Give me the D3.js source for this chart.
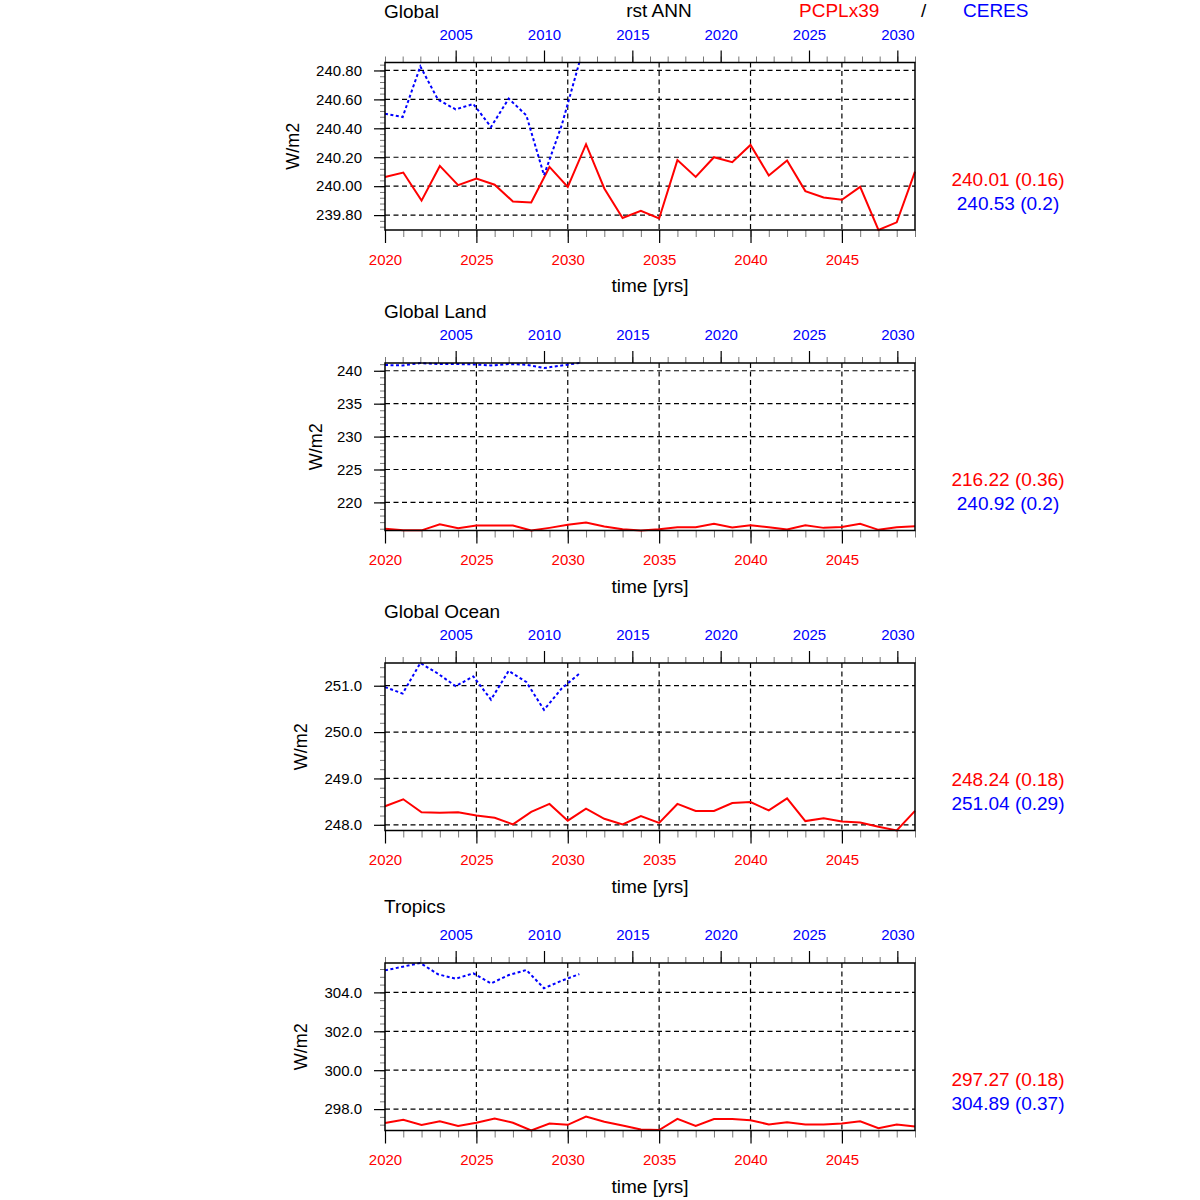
<!DOCTYPE html>
<html>
<head>
<meta charset="utf-8">
<script src="https://cdn.jsdelivr.net/npm/d3@7"></script>
<style>
  body { margin: 0; background: #fff; }
  text { font-family: "Liberation Sans", Arial, Helvetica, sans-serif; }
</style>
</head>
<body>
<div id="chart"></div>
<script>
// anos do modelo (eixo de baixo) e das observações (eixo de cima)
const modelYears = [2020, 2021, 2022, 2023, 2024, 2025, 2026, 2027, 2028, 2029,
  2030, 2031, 2032, 2033, 2034, 2035, 2036, 2037, 2038, 2039,
  2040, 2041, 2042, 2043, 2044, 2045, 2046, 2047, 2048, 2049];
const obsYears = [2001, 2002, 2003, 2004, 2005, 2006, 2007, 2008, 2009, 2010, 2011, 2012];

const regions = ["Global", "Global Land", "Global Ocean", "Tropics"];

// PCPLx39 (vermelho)
const modelGlobal = [240.064, 240.094, 239.900, 240.140, 240.007, 240.053, 240.010, 239.894, 239.887, 240.133,
  239.995, 240.290, 239.984, 239.780, 239.830, 239.777, 240.180, 240.064, 240.200, 240.166,
  240.285, 240.074, 240.177, 239.966, 239.922, 239.906, 239.995, 239.697, 239.750, 240.100];
const modelLand = [215.98, 215.75, 215.75, 216.69, 216.08, 216.49, 216.49, 216.49, 215.73, 216.13,
  216.59, 216.95, 216.34, 215.93, 215.73, 215.93, 216.23, 216.23, 216.74, 216.18,
  216.54, 216.23, 215.88, 216.54, 216.13, 216.28, 216.74, 215.83, 216.23, 216.39];
const modelOcean = [248.40, 248.55, 248.27, 248.26, 248.27, 248.20, 248.15, 248.01, 248.28, 248.45,
  248.09, 248.35, 248.13, 248.01, 248.19, 248.04, 248.45, 248.30, 248.30, 248.47,
  248.49, 248.31, 248.57, 248.08, 248.14, 248.07, 248.05, 247.96, 247.877, 248.30];
const modelTropics = [297.28, 297.45, 297.18, 297.38, 297.13, 297.30, 297.52, 297.30, 296.90, 297.26,
  297.19, 297.62, 297.35, 297.16, 296.95, 296.92, 297.50, 297.14, 297.49, 297.49,
  297.43, 297.21, 297.33, 297.21, 297.21, 297.26, 297.37, 297.02, 297.21, 297.11];

// CERES (azul)
const obsGlobal = [240.501, 240.478, 240.828, 240.598, 240.531, 240.568, 240.409, 240.605, 240.490, 240.076, 240.420, 240.855];
const obsLand = [240.87, 240.81, 241.17, 241.02, 241.02, 240.97, 240.81, 241.02, 240.92, 240.41, 240.81, 241.18];
const obsOcean = [250.97, 250.83, 251.49, 251.26, 250.99, 251.20, 250.70, 251.32, 251.08, 250.48, 250.94, 251.26];
const obsTropics = [305.13, 305.32, 305.51, 304.93, 304.70, 304.98, 304.46, 304.89, 305.15, 304.21, 304.60, 304.94];

// rótulos dos eixos
const bottomTicks = [2020, 2025, 2030, 2035, 2040, 2045];
const topTicks = [2005, 2010, 2015, 2020, 2025, 2030];
const yTicksGlobal = [239.8, 240.0, 240.2, 240.4, 240.6, 240.8];
const yTicksLand = [220, 225, 230, 235, 240];
const yTicksOcean = [248.0, 249.0, 250.0, 251.0];
const yTicksTropics = [298.0, 300.0, 302.0, 304.0];

// médias (desvio) mostradas à direita
const modelStats = ["240.01 (0.16)", "216.22 (0.36)", "248.24 (0.18)", "297.27 (0.18)"];
const obsStats = ["240.53 (0.2)", "240.92 (0.2)", "251.04 (0.29)", "304.89 (0.37)"];

const panels = [
  { title: regions[0], model: modelGlobal, obs: obsGlobal, yTicks: yTicksGlobal, minor: 0.04, fmt: ".2f", top: 62.5, ylabX: 293, titleOff: 45 },
  { title: regions[1], model: modelLand, obs: obsLand, yTicks: yTicksLand, minor: 1, fmt: "d", top: 363, ylabX: 316, titleOff: 45 },
  { title: regions[2], model: modelOcean, obs: obsOcean, yTicks: yTicksOcean, minor: 0.2, fmt: ".1f", top: 663, ylabX: 301, titleOff: 45 },
  { title: regions[3], model: modelTropics, obs: obsTropics, yTicks: yTicksTropics, minor: 0.4, fmt: ".1f", top: 963, ylabX: 301, titleOff: 50 },
];

const left = 385, plotW = 530, plotH = 167.5;
const red = "#ff0000", blue = "#0000ff";

const svg = d3.select("#chart").append("svg")
  .attr("width", 1200).attr("height", 1200);

// cabeçalho
svg.append("text").attr("x", 659).attr("y", 17).attr("text-anchor", "middle")
  .style("font-size", "19px").text("rst ANN");
svg.append("text").attr("x", 799).attr("y", 17).style("font-size", "19px")
  .style("fill", red).text("PCPLx39");
svg.append("text").attr("x", 921).attr("y", 17).style("font-size", "19px").text("/");
svg.append("text").attr("x", 963).attr("y", 17).style("font-size", "19px")
  .style("fill", blue).text("CERES");

const xModel = d3.scaleLinear().domain([2020, 2049]).range([0, plotW]);
const xObs = d3.scaleLinear().domain([2001, 2031]).range([0, plotW]);

panels.forEach((p, i) => {
  const g = svg.append("g").attr("transform", `translate(${left},${p.top})`);

  const ext = d3.extent(p.model.concat(p.obs));
  const y = d3.scaleLinear().domain(ext).range([plotH, 0]);

  // título do painel
  svg.append("text").attr("x", 384).attr("y", p.top - p.titleOff)
    .style("font-size", "19px").text(p.title);

  // grade tracejada
  g.append("g").selectAll("line").data(p.yTicks).join("line")
    .attr("x1", 0).attr("x2", plotW)
    .attr("y1", d => y(d)).attr("y2", d => y(d))
    .attr("stroke", "#000").attr("stroke-width", 1.2).attr("stroke-dasharray", "5,3.5");
  g.append("g").selectAll("line").data(bottomTicks.slice(1)).join("line")
    .attr("x1", d => xModel(d)).attr("x2", d => xModel(d))
    .attr("y1", 0).attr("y2", plotH)
    .attr("stroke", "#000").attr("stroke-width", 1.2).attr("stroke-dasharray", "5,3.5");

  // ticks menores
  const yMinor = d3.range(Math.ceil(ext[0] / p.minor - 1e-6) * p.minor, ext[1] + 1e-9, p.minor);
  g.append("g").call(d3.axisLeft(y).tickValues(yMinor).tickSize(5).tickFormat(""))
    .call(a => a.select(".domain").remove())
    .call(a => a.selectAll("line").attr("stroke", "#777"));
  g.append("g").attr("transform", `translate(0,${plotH})`)
    .call(d3.axisBottom(xModel).tickValues(modelYears).tickSize(7).tickFormat(""))
    .call(a => a.select(".domain").remove())
    .call(a => a.selectAll("line").attr("stroke", "#777"));
  g.append("g")
    .call(d3.axisTop(xObs).tickValues(d3.range(2001, 2032)).tickSize(6).tickFormat(""))
    .call(a => a.select(".domain").remove())
    .call(a => a.selectAll("line").attr("stroke", "#777"));

  // eixos principais
  g.append("g")
    .call(d3.axisLeft(y).tickValues(p.yTicks).tickSize(11).tickPadding(12).tickFormat(d3.format(p.fmt)))
    .call(a => a.select(".domain").remove())
    .call(a => a.selectAll("line").attr("stroke", "#000").attr("stroke-width", 1.2))
    .call(a => a.selectAll("text").style("font-size", "15px").style("fill", "#000")
      .style("font-family", '"Liberation Sans", Arial, sans-serif'));
  g.append("g").attr("transform", `translate(0,${plotH})`)
    .call(d3.axisBottom(xModel).tickValues(bottomTicks).tickSize(13).tickPadding(11).tickFormat(d3.format("d")))
    .call(a => a.select(".domain").remove())
    .call(a => a.selectAll("line").attr("stroke", "#000").attr("stroke-width", 1.2))
    .call(a => a.selectAll("text").style("font-size", "15px").style("fill", red)
      .style("font-family", '"Liberation Sans", Arial, sans-serif'));
  g.append("g")
    .call(d3.axisTop(xObs).tickValues(topTicks).tickSize(12).tickPadding(11).tickFormat(d3.format("d")))
    .call(a => a.select(".domain").remove())
    .call(a => a.selectAll("line").attr("stroke", "#000").attr("stroke-width", 1.2))
    .call(a => a.selectAll("text").style("font-size", "15px").style("fill", blue)
      .style("font-family", '"Liberation Sans", Arial, sans-serif'));

  // linhas
  const lineModel = d3.line().x((d, k) => xModel(modelYears[k])).y(d => y(d));
  const lineObs = d3.line().x((d, k) => xObs(obsYears[k])).y(d => y(d));
  g.append("path").datum(p.model).attr("d", lineModel)
    .attr("fill", "none").attr("stroke", red).attr("stroke-width", 2);
  g.append("path").datum(p.obs).attr("d", lineObs)
    .attr("fill", "none").attr("stroke", blue).attr("stroke-width", 2)
    .attr("stroke-dasharray", "3,2.5");

  // moldura
  g.append("rect").attr("width", plotW).attr("height", plotH)
    .attr("fill", "none").attr("stroke", "#000").attr("stroke-width", 1.5);

  // rótulos dos eixos
  svg.append("text").attr("x", 650).attr("y", p.top + plotH + 62)
    .attr("text-anchor", "middle").style("font-size", "19px").text("time [yrs]");
  svg.append("text")
    .attr("transform", `translate(${p.ylabX + 6},${p.top + plotH / 2}) rotate(-90)`)
    .attr("text-anchor", "middle").style("font-size", "18px").text("W/m2");

  // estatísticas
  svg.append("text").attr("x", 1008).attr("y", p.top + 123)
    .attr("text-anchor", "middle").style("font-size", "19px").style("fill", red).text(modelStats[i]);
  svg.append("text").attr("x", 1008).attr("y", p.top + 147)
    .attr("text-anchor", "middle").style("font-size", "19px").style("fill", blue).text(obsStats[i]);
});
</script>
</body>
</html>
